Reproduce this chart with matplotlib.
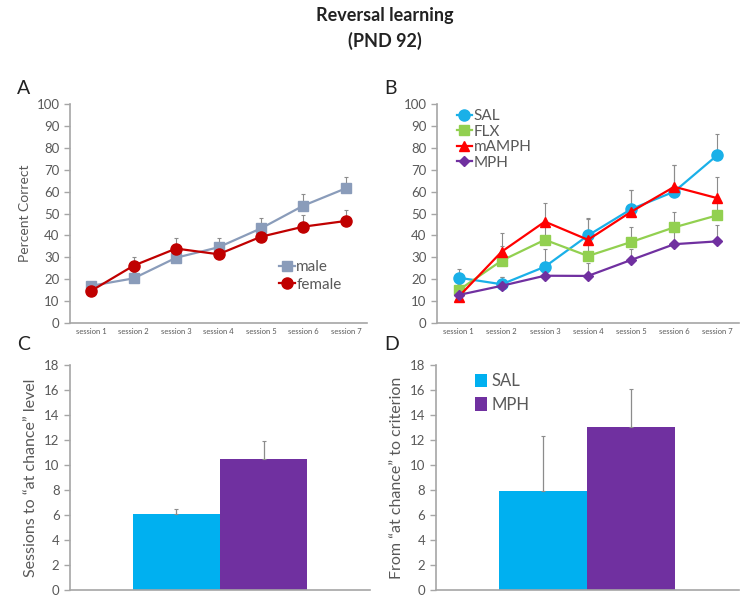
import matplotlib.pyplot as plt
import numpy as np

# data
sessions = ['session 1', 'session 2', 'session 3', 'session 4', 'session 5', 'session 6', 'session 7']

male = [17, 20.4, 29.8, 34.6, 43.2, 53.6, 61.5]
male_err = [1.5, 3, 4, 4.4, 4.6, 5.3, 5]
female = [14.7, 26.2, 34, 31.4, 39.4, 44, 46.6]
female_err = [1.5, 4.1, 5, 3.5, 4, 5.3, 5]

sal = [20.7, 17.7, 25.7, 40, 52, 60, 76.7]
sal_err = [4, 3.5, 8.3, 7.8, 8.7, 12, 9.6]
flx = [15, 28.5, 38, 30.6, 37, 43.7, 49.2]
flx_err = [3, 6.5, 7, 6.5, 6.7, 7.1, 7]
mamph = [12, 32.6, 46.3, 38, 50.8, 62.2, 57]
mamph_err = [2, 8.6, 8.7, 9.5, 9.9, 9.8, 9.8]
mph = [12.8, 17, 21.6, 21.5, 28.8, 36, 37.3]
mph_err = [2, 4, 6, 6, 5, 5.5, 7.4]

groups = ['SAL', 'MPH']
chance_sessions = [6.05, 10.5]
chance_err = [0.45, 1.45]
criterion = [7.9, 13.0]
criterion_err = [4.4, 3.05]

SAL_C = '#00B0F0'
MPH_C = '#7030A0'
TXT = '#595959'
AXC = '#a6a6a6'

plt.rcParams['font.family'] = ['Lato', 'DejaVu Sans']

fig = plt.figure(figsize=(7.54, 6.03), dpi=100)

axA = fig.add_axes([0.0928, 0.4643, 0.394, 0.3632])
axB = fig.add_axes([0.5796, 0.4643, 0.4005, 0.3632])
axC = fig.add_axes([0.0928, 0.0216, 0.398, 0.3731])
axD = fig.add_axes([0.578, 0.0216, 0.402, 0.3731])


def style(ax):
    for s in ['top', 'right']:
        ax.spines[s].set_visible(False)
    for s in ['left', 'bottom']:
        ax.spines[s].set_color(AXC)
        ax.spines[s].set_linewidth(1.2)
    ax.tick_params(axis='y', colors=TXT, labelsize=9.5, length=4, width=1, direction='out')
    ax.tick_params(axis='y', color=AXC)
    ax.tick_params(axis='x', length=0, colors=TXT)


x = np.arange(len(sessions))


def line(ax, y, err, color, marker, label, ms):
    ax.errorbar(x, y, yerr=[np.zeros(len(y)), err], fmt='none', ecolor='#8c8c8c',
                elinewidth=0.8, capsize=1.5, capthick=0.8, zorder=2)
    ax.plot(x, y, color=color, marker=marker, markersize=ms, linewidth=1.6,
            label=label, zorder=3)


# A
style(axA)
line(axA, male, male_err, '#8a9cba', 's', 'male', 7)
line(axA, female, female_err, '#c00000', 'o', 'female', 8)
axA.set_xlim(-0.5, 6.5)
axA.set_ylim(0, 100)
axA.set_yticks(range(0, 101, 10))
axA.set_xticks(x)
axA.set_xticklabels(sessions, fontsize=5.5, color=TXT)
axA.set_ylabel('Percent Correct', color=TXT, fontsize=10)
axA.legend(loc='lower right', bbox_to_anchor=(0.96, 0.08), frameon=False, fontsize=11,
           handlelength=1.0, handletextpad=0.1, labelspacing=0.25, labelcolor=TXT)

# B
style(axB)
line(axB, sal, sal_err, '#1ab0e8', 'o', 'SAL', 8)
line(axB, flx, flx_err, '#92d050', 's', 'FLX', 7)
line(axB, mamph, mamph_err, '#ff0000', '^', 'mAMPH', 7)
line(axB, mph, mph_err, '#7030a0', 'D', 'MPH', 5)
axB.set_xlim(-0.5, 6.5)
axB.set_ylim(0, 100)
axB.set_yticks(range(0, 101, 10))
axB.set_xticks(x)
axB.set_xticklabels(sessions, fontsize=5.5, color=TXT)
axB.legend(loc='upper left', bbox_to_anchor=(0.02, 1.04), frameon=False, fontsize=11,
           handlelength=1.0, handletextpad=0.1, labelspacing=0.1, labelcolor=TXT)


def bars(ax, vals, errs, ylabel, legend=False):
    style(ax)
    pos = np.array([-0.5, 0.5])
    b = ax.bar(pos, vals, width=1.0, color=[SAL_C, MPH_C], zorder=2, label=None)
    ax.errorbar(pos, vals, yerr=[np.zeros(2), errs], fmt='none', ecolor='#8c8c8c',
                elinewidth=0.9, capsize=1.5, capthick=0.8, zorder=3)
    ax.set_xlim(-1.72, 1.72)
    ax.set_ylim(0, 18)
    ax.set_yticks(range(0, 19, 2))
    ax.set_xticks([])
    ax.set_ylabel(ylabel, color=TXT, fontsize=11.5)
    if legend:
        ax.legend(b, groups, loc='upper left', bbox_to_anchor=(0.08, 1.03), frameon=False,
                  fontsize=12, handlelength=0.7, handleheight=0.9, handletextpad=0.3,
                  labelspacing=0.45, labelcolor=TXT)


bars(axC, chance_sessions, chance_err, 'Sessions to \u201cat chance\u201d level')
bars(axD, criterion, criterion_err, 'From \u201cat chance\u201d to criterion', legend=True)

# panel letters and title
for lab, xx, yy in [('A', 17, 88), ('B', 384, 88), ('C', 17, 345), ('D', 384, 345)]:
    fig.text(xx / 754, 1 - yy / 603, lab, fontsize=14, va='center', ha='left', color='#222222')

fig.text(0.51, 1 - 16 / 603, 'Reversal learning', fontsize=13, fontweight='bold',
         ha='center', va='center', color='#222222')
fig.text(0.51, 1 - 41 / 603, '(PND 92)', fontsize=13, fontweight='bold',
         ha='center', va='center', color='#222222')

fig.savefig('out.png', dpi=100)
